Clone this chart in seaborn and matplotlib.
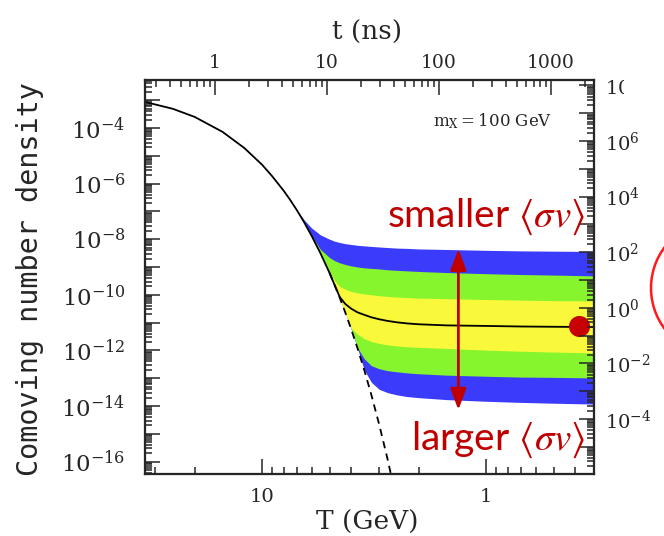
import numpy as np
import matplotlib
matplotlib.use("Agg")
import matplotlib.pyplot as plt
import seaborn as sns
from matplotlib.ticker import LogLocator, FuncFormatter, NullFormatter
from matplotlib.patches import Rectangle, Ellipse

# ---------------- data ----------------
T_GeV = [33, 25, 20, 15, 12, 10, 9, 8, 7.5, 7, 6.5, 6, 5.5, 5, 4.75, 4.5, 4.25, 4,
         3.75, 3.5, 3.25, 3, 2.75, 2.5, 2.25, 2, 1.5, 1, 0.7, 0.5, 0.33]

# equilibrium abundance (log10 Y), defined for the first 24 temperatures
log10_Y_eq = [-3.07, -3.31, -3.60, -4.14, -4.72, -5.32, -5.74, -6.26, -6.58, -6.95,
              -7.38, -7.89, -8.49, -9.21, -9.64, -10.11, -10.64, -11.24, -11.92,
              -12.70, -13.61, -14.67, -15.93, -17.45]

# freeze-out curves, from smallest <sigma v> (top) to largest (bottom)
log10_Y_c1 = [-3.07, -3.31, -3.60, -4.14, -4.72, -5.32, -5.74, -6.26, -6.58, -6.95,
              -7.30, -7.60, -7.84, -8.00, -8.07, -8.12, -8.16, -8.19, -8.22, -8.24,
              -8.26, -8.28, -8.30, -8.32, -8.33, -8.35, -8.37, -8.40, -8.42, -8.43, -8.44]
log10_Y_c2 = [-3.07, -3.31, -3.60, -4.14, -4.72, -5.32, -5.74, -6.26, -6.58, -6.95,
              -7.38, -7.87, -8.36, -8.66, -8.77, -8.85, -8.91, -8.96, -9.00, -9.03,
              -9.05, -9.07, -9.10, -9.12, -9.14, -9.16, -9.20, -9.24, -9.27, -9.29, -9.32]
log10_Y_c3 = [-3.07, -3.31, -3.60, -4.14, -4.72, -5.32, -5.74, -6.26, -6.58, -6.95,
              -7.38, -7.89, -8.49, -9.15, -9.48, -9.70, -9.80, -9.88, -9.93, -9.97,
              -10.00, -10.03, -10.06, -10.08, -10.10, -10.12, -10.14, -10.17, -10.19,
              -10.21, -10.22]
log10_Y_c4 = [-3.07, -3.31, -3.60, -4.14, -4.72, -5.32, -5.74, -6.26, -6.58, -6.95,
              -7.38, -7.89, -8.49, -9.21, -9.64, -10.08, -10.33, -10.50, -10.63, -10.72,
              -10.81, -10.88, -10.94, -10.99, -11.03, -11.06, -11.10, -11.12, -11.14,
              -11.15, -11.16]
log10_Y_c5 = [-3.07, -3.31, -3.60, -4.14, -4.72, -5.32, -5.74, -6.26, -6.58, -6.95,
              -7.38, -7.89, -8.49, -9.21, -9.64, -10.11, -10.64, -11.20, -11.42, -11.58,
              -11.68, -11.75, -11.80, -11.84, -11.87, -11.89, -11.93, -11.99, -12.03,
              -12.06, -12.09]
log10_Y_c6 = [-3.07, -3.31, -3.60, -4.14, -4.72, -5.32, -5.74, -6.26, -6.58, -6.95,
              -7.38, -7.89, -8.49, -9.21, -9.64, -10.11, -10.64, -11.24, -11.90, -12.30,
              -12.55, -12.66, -12.73, -12.77, -12.81, -12.84, -12.89, -12.93, -12.96,
              -12.97, -12.99]
log10_Y_c7 = [-3.07, -3.31, -3.60, -4.14, -4.72, -5.32, -5.74, -6.26, -6.58, -6.95,
              -7.38, -7.89, -8.49, -9.21, -9.64, -10.11, -10.64, -11.24, -11.92, -12.70,
              -13.15, -13.40, -13.52, -13.60, -13.66, -13.70, -13.77, -13.83, -13.87,
              -13.90, -13.93]

# axis ranges
T_range = (33.3, 0.330)                 # GeV, decreasing to the right
log10_Y_range = (-16.446, -2.273)       # left axis
log10_right_range = (-5.976, 8.197)     # right axis
t_ns_range = (0.238, 2421)              # top axis

# annotations
marker_T, marker_log10_Y = 0.385, -11.12
arrow_T, arrow_top_log10, arrow_bottom_log10 = 1.33, -8.35, -14.14
mass_label = r"$\mathrm{m_X = 100\ GeV}$"

BLUE, GREEN, YELLOW = "#3b3bfb", "#86f52e", "#f9f83a"
RED = "#c00000"

# ---------------- style ----------------
sns.set_style("ticks")
plt.rcParams["font.family"] = ["DejaVu Serif"]
plt.rcParams["mathtext.fontset"] = "dejavuserif"

T = np.array(T_GeV, dtype=float)
Yc = [10 ** np.array(c) for c in (log10_Y_c1, log10_Y_c2, log10_Y_c3, log10_Y_c4,
                                  log10_Y_c5, log10_Y_c6, log10_Y_c7)]
T_eq = T[:len(log10_Y_eq)]
Y_eq = 10 ** np.array(log10_Y_eq)

W, H = 664, 536
fig = plt.figure(figsize=(W / 100, H / 100), dpi=100)
ax = fig.add_axes([145 / W, 1 - 474 / H, 449 / W, 394 / H])

# bands
ax.fill_between(T, Yc[0], Yc[6], color=BLUE, lw=0, zorder=1)
ax.fill_between(T, Yc[1], Yc[5], color=GREEN, lw=0, zorder=1.1)
ax.fill_between(T, Yc[2], Yc[4], color=YELLOW, lw=0, zorder=1.2)

# lines
mask = T_eq <= 5
sns.lineplot(x=T_eq[mask], y=Y_eq[mask], ax=ax, color="black", lw=1.3,
             linestyle=(0, (4, 3)), estimator=None, sort=False, zorder=3)
sns.lineplot(x=T, y=Yc[3], ax=ax, color="black", lw=1.3,
             estimator=None, sort=False, zorder=4)

ax.set_xscale("log")
ax.set_yscale("log")
ax.set_xlim(*T_range)
ax.set_ylim(10 ** log10_Y_range[0], 10 ** log10_Y_range[1])
ax.set_xlabel("")
ax.set_ylabel("")

# marker and arrow
ax.scatter([marker_T], [10 ** marker_log10_Y], s=230, color="#c80000", lw=0,
           zorder=6, clip_on=False)
ax.annotate("", xy=(arrow_T, 10 ** arrow_bottom_log10),
            xytext=(arrow_T, 10 ** arrow_top_log10),
            arrowprops=dict(arrowstyle="<|-|>,head_length=0.8,head_width=0.3",
                            color=RED, lw=2, shrinkA=0, shrinkB=0,
                            mutation_scale=16), zorder=5)


def even_pow(v, pos):
    e = int(round(np.log10(v)))
    return r"$10^{%d}$" % e if e % 2 == 0 else ""


def plain(v, pos):
    return "%g" % v


SPW = 1.5
for s in ax.spines.values():
    s.set_linewidth(SPW)

ax.yaxis.set_major_locator(LogLocator(base=10, numticks=40))
ax.yaxis.set_minor_locator(LogLocator(base=10, subs=np.arange(2, 10), numticks=40))
ax.yaxis.set_major_formatter(FuncFormatter(even_pow))
ax.yaxis.set_minor_formatter(NullFormatter())
ax.xaxis.set_major_locator(LogLocator(base=10, numticks=10))
ax.xaxis.set_minor_locator(LogLocator(base=10, subs=np.arange(2, 10), numticks=10))
ax.xaxis.set_major_formatter(FuncFormatter(plain))
ax.xaxis.set_minor_formatter(NullFormatter())
ax.tick_params(which="both", direction="in", top=False, right=False, width=1.1)
ax.tick_params(which="major", length=11)
ax.tick_params(which="minor", length=5)
ax.tick_params(axis="y", which="major", labelsize=16.5, pad=14)
ax.tick_params(axis="x", which="major", labelsize=14, pad=10)

# right axis
axr = ax.twinx()
axr.set_yscale("log")
axr.set_ylim(10 ** log10_right_range[0], 10 ** log10_right_range[1])
axr.yaxis.set_major_locator(LogLocator(base=10, numticks=40))
axr.yaxis.set_minor_locator(LogLocator(base=10, subs=np.arange(2, 10), numticks=40))
axr.yaxis.set_major_formatter(FuncFormatter(even_pow))
axr.yaxis.set_minor_formatter(NullFormatter())
axr.tick_params(which="both", direction="in", width=1.1)
axr.tick_params(which="major", length=11, labelsize=14, pad=8)
axr.tick_params(which="minor", length=5)

# top axis
axt = ax.twiny()
axt.set_xscale("log")
axt.set_xlim(*t_ns_range)
axt.xaxis.set_major_locator(LogLocator(base=10, numticks=10))
axt.xaxis.set_minor_locator(LogLocator(base=10, subs=np.arange(2, 10), numticks=10))
axt.xaxis.set_major_formatter(FuncFormatter(plain))
axt.xaxis.set_minor_formatter(NullFormatter())
axt.tick_params(which="both", direction="in", width=1.1)
axt.tick_params(which="major", length=11, labelsize=13.5, pad=6)
axt.tick_params(which="minor", length=5)
for a in (axr, axt):
    for s in a.spines.values():
        s.set_linewidth(SPW)

# texts
fig.text(30 / W, 1 - 279 / H, "Comoving number density", rotation=90,
         ha="center", va="center", family="DejaVu Sans Mono", fontsize=20.5)
fig.text(367 / W, 1 - 32 / H, "t (ns)", ha="center", va="center",
         family="DejaVu Serif", fontsize=19)
fig.text(367 / W, 1 - 522 / H, "T (GeV)", ha="center", va="center",
         family="DejaVu Serif", fontsize=19)
fig.text(493 / W, 1 - 121 / H, mass_label, ha="center", va="center", fontsize=12,
         math_fontfamily="dejavuserif")
fig.text(486 / W, 1 - 217 / H, r"smaller $\langle\sigma v\rangle$", ha="center",
         va="center", fontsize=28, color=RED, family="Lato", math_fontfamily="stix",
         zorder=20)
fig.text(498 / W, 1 - 440 / H, r"larger $\langle\sigma v\rangle$", ha="center",
         va="center", fontsize=28, color=RED, family="Lato", math_fontfamily="stix",
         zorder=20)

# slide decorations: clipped top-right label and red ellipse
fig.add_artist(Rectangle((624 / W, 1 - 102 / H), 40 / W, 34 / H,
                         transform=fig.transFigure, facecolor="white",
                         edgecolor="none", zorder=30))
fig.add_artist(Ellipse((719 / W, 1 - 288 / H), 136 / W, 136 / H,
                       transform=fig.transFigure, fill=False, edgecolor="#ff1a1a",
                       lw=1.8, zorder=30))

fig.savefig("out.png", dpi=100)
